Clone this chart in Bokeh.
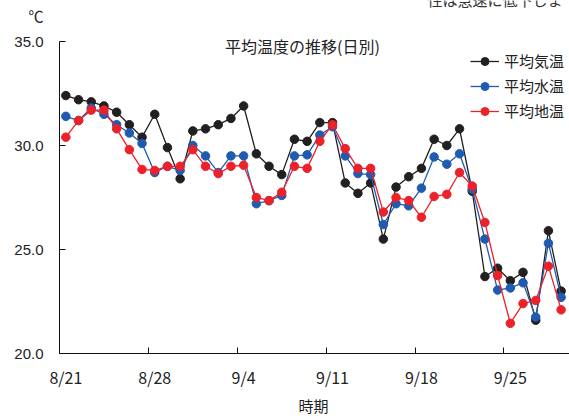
from bokeh.plotting import figure
from bokeh.models import (FixedTicker, LinearAxis, Label, Legend, LegendItem,
                          ColumnDataSource, Range1d, Title)
from bokeh.embed import file_html
from bokeh.resources import INLINE

# ---- data ----
air = [32.4, 32.2, 32.1, 31.9, 31.6, 31.0, 30.4, 31.5, 29.9, 28.4,
       30.7, 30.8, 31.0, 31.3, 31.9, 29.6, 29.0, 28.6, 30.3, 30.2,
       31.1, 31.1, 28.2, 27.7, 28.2, 25.5, 28.0, 28.5, 28.9, 30.3,
       30.0, 30.8, 27.8, 23.7, 24.1, 23.5, 23.9, 21.6, 25.9, 23.0]
water = [31.4, 31.2, 31.8, 31.5, 31.0, 30.6, 30.1, 28.7, 29.0, 28.8,
         30.0, 29.5, 28.7, 29.5, 29.5, 27.2, 27.35, 27.6, 29.5, 29.55,
         30.5, 30.9, 29.5, 28.65, 28.6, 26.2, 27.2, 27.1, 27.95, 29.45,
         29.1, 29.6, 27.9, 25.5, 23.05, 23.15, 23.4, 21.75, 25.3, 22.7]
soil = [30.4, 31.2, 31.7, 31.7, 30.8, 29.8, 28.85, 28.8, 29.0, 29.0,
        29.8, 29.0, 28.65, 29.0, 29.05, 27.5, 27.35, 27.75, 29.0, 28.9,
        30.2, 31.0, 29.85, 28.9, 28.9, 26.8, 27.5, 27.35, 26.55, 27.55,
        27.65, 28.7, 28.05, 26.3, 23.75, 21.45, 22.4, 22.55, 24.2, 22.1]
days = list(range(len(air)))          # 8/21 .. 9/29, one point per day
series_names = ["平均気温", "平均水温", "平均地温"]
tick_days = [0, 7, 14, 21, 28, 35]
tick_labels = ["8/21", "8/28", "9/4", "9/11", "9/18", "9/25"]
y_ticks = [20, 25, 30, 35]
y_labels = ["20.0", "25.0", "30.0", "35.0"]
unit_label = "℃"
title_text = "平均温度の推移(日別)"
x_title = "時期"
top_text = "性は急速に低下しま"

colors = ["#231f20", "#1f5bb0", "#ec2129"]
JP = "Noto Sans CJK JP"
TXT = "#222222"

src = ColumnDataSource(dict(day=days, air=air, water=water, soil=soil))

p = figure(width=569, height=416, x_range=(-0.5, 39.66), y_range=(20, 36.97),
           output_backend="svg", toolbar_location=None,
           x_axis_type=None, y_axis_type=None,
           min_border_left=59, min_border_right=0,
           min_border_top=0, min_border_bottom=63)
p.outline_line_color = None
p.background_fill_color = "white"
p.extra_y_ranges = {"ylab": Range1d(200, 369.7)}

# y axis: line + inside ticks (as minor ticks), limited to 20..35, no labels
y0 = LinearAxis(ticker=FixedTicker(ticks=[], minor_ticks=y_ticks), bounds=(20, 35))
y0.minor_tick_in = 6
y0.minor_tick_out = 0
y0.minor_tick_line_color = "#111111"
y0.major_tick_line_color = None
y0.axis_line_color = "#111111"
y0.major_label_standoff = 0
p.add_layout(y0, "left")

# y axis: labels (numbers and unit)
lab_ticks = [t * 10 for t in y_ticks] + [362]
overrides = {t * 10: s for t, s in zip(y_ticks, y_labels)}
overrides[362] = unit_label
y1 = LinearAxis(y_range_name="ylab", ticker=FixedTicker(ticks=lab_ticks),
                major_label_overrides=overrides)
y1.axis_line_color = None
y1.major_tick_line_color = None
y1.minor_tick_line_color = None
y1.major_label_text_font = "'Liberation Sans', 'Noto Sans CJK JP'"
y1.major_label_text_font_size = "15px"
y1.major_label_text_color = TXT
y1.major_label_standoff = 10
p.add_layout(y1, "left")

# x axis: labels at category centres, tick marks (minor) at category boundaries
xa = LinearAxis(ticker=FixedTicker(ticks=tick_days,
                                   minor_ticks=[d - 0.5 for d in tick_days]),
                major_label_overrides={d: t for d, t in zip(tick_days, tick_labels)})
xa.major_tick_line_color = None
xa.minor_tick_in = 6
xa.minor_tick_out = 0
xa.minor_tick_line_color = "#111111"
xa.axis_line_color = "#111111"
xa.major_label_text_font = JP
xa.major_label_text_font_size = "16px"
xa.major_label_text_color = TXT
xa.major_label_standoff = 5
p.add_layout(xa, "below")

p.add_layout(Title(text=x_title, align="left", offset=239, standoff=2,
                   text_font=JP, text_font_size="15px", text_font_style="normal",
                   text_color=TXT), "below")

items = []
for name, col, c in zip(series_names, ["air", "water", "soil"], colors):
    lr = p.line("day", col, source=src, line_color=c, line_width=1.3)
    sr = p.scatter("day", col, source=src, size=8.5, fill_color=c, line_color=c)
    items.append(LegendItem(label=name, renderers=[lr, sr]))

leg = Legend(items=items, location=(411, 232))
leg.border_line_color = None
leg.background_fill_alpha = 0
leg.padding = 0
leg.margin = 0
leg.spacing = 4
leg.glyph_width = 29
leg.glyph_height = 20
leg.label_height = 20
leg.label_standoff = 5
leg.label_text_font = JP
leg.label_text_font_size = "15px"
leg.label_text_color = TXT
p.add_layout(leg, "center")

p.add_layout(Label(x=243, y=307.5, x_units="screen", y_units="screen",
                   text=title_text, text_font=JP, text_font_size="16px",
                   text_color=TXT, text_align="center", text_baseline="middle"))
p.add_layout(Label(x=368, y=354.5, x_units="screen", y_units="screen",
                   text=top_text, text_font=JP, text_font_size="15px",
                   text_color="#333333", text_align="left", text_baseline="middle"))

open("out.html", "w").write(file_html(p, INLINE))
